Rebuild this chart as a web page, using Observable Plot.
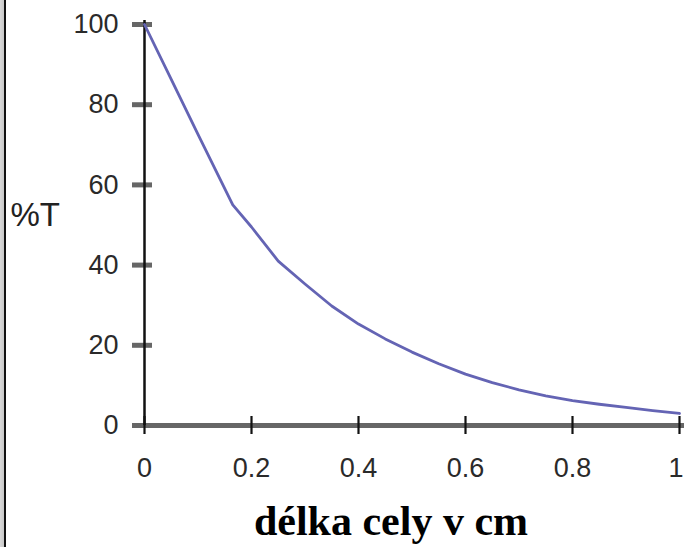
<!DOCTYPE html>
<html>
<head>
<meta charset="utf-8">
<script src="https://cdn.jsdelivr.net/npm/d3@7"></script>
<script src="https://cdn.jsdelivr.net/npm/@observablehq/plot@0.6"></script>
<style>
  html, body { margin: 0; padding: 0; background: #fff; }
  #wrap { position: relative; width: 684px; height: 547px; overflow: hidden; }
  #edge { position: absolute; left: 0; top: 0; width: 7px; height: 547px;
          background: linear-gradient(to right, #d8d8d8 0, #c8c8c8 4px, #111 4px, #111 6px, #fff 6px); }
</style>
</head>
<body>
<div id="wrap"><div id="edge"></div></div>
<script>
// Path length in cm (x) and transmittance %T (y)
const lengths = [0, 0.05, 0.1, 0.165, 0.2, 0.25, 0.3, 0.35, 0.4, 0.45, 0.5, 0.55, 0.6, 0.65, 0.7, 0.75, 0.8, 0.85, 0.9, 0.95, 1];
const transmittance = [100, 86.3, 72.6, 55, 49.5, 41, 35.3, 29.8, 25.3, 21.6, 18.3, 15.4, 12.8, 10.7, 8.9, 7.4, 6.2, 5.3, 4.5, 3.7, 3.0];
const xTicks = [0, 0.2, 0.4, 0.6, 0.8, 1];
const yTicks = [0, 20, 40, 60, 80, 100];
const xTitle = "délka cely v cm";
const yTitle = "%T";

const data = lengths.map((x, i) => ({x, t: transmittance[i]}));
const lastTick = xTicks[xTicks.length - 1];
const innerTicks = xTicks.slice(0, -1);

const chart = Plot.plot({
  width: 684,
  height: 547,
  marginLeft: 144,
  marginRight: 5,
  marginTop: 24,
  marginBottom: 122,
  style: {background: "transparent", fontFamily: "'Liberation Sans', Arial, sans-serif", overflow: "visible"},
  x: {domain: [0, 1], label: null},
  y: {domain: [0, 100], label: null},
  marks: [
    // y ticks (gray, both sides of axis)
    Plot.axisY(yTicks, {tickSize: 20, dx: 8, stroke: "#666", strokeWidth: 5, strokeOpacity: 1, tickFormat: () => "", label: null}),
    Plot.axisY(yTicks, {tickSize: 0, tickPadding: 26, fontSize: 27, fill: "#2a2a2a", label: null}),
    // x axis line (thick gray)
    Plot.ruleY([0], {stroke: "#666", strokeWidth: 5, insetLeft: -12, insetRight: -6}),
    // x ticks (black, crossing line)
    Plot.axisX(xTicks, {tickSize: 18, dy: -9, stroke: "#111", strokeWidth: 2.2, strokeOpacity: 1, tickFormat: () => "", label: null}),
    Plot.axisX(innerTicks, {tickSize: 0, tickPadding: 32, fontSize: 27, fill: "#2a2a2a", tickFormat: d => String(d), label: null}),
    Plot.axisX([lastTick], {tickSize: 0, tickPadding: 32, fontSize: 27, fill: "#2a2a2a", textAnchor: "end", dx: 4, tickFormat: d => String(d), label: null}),
    // y axis line
    Plot.ruleX([0], {stroke: "#111", strokeWidth: 2.5, insetTop: -4}),
    // curve
    Plot.line(data, {x: "x", y: "t", stroke: "#6464b4", strokeWidth: 2.8}),
    // titles
    Plot.text([yTitle], {frameAnchor: "left", textAnchor: "start", dx: -134, dy: -10, fontSize: 33, fill: "#222"}),
    Plot.text([xTitle], {frameAnchor: "bottom", textAnchor: "middle", lineAnchor: "middle", dx: -21, dy: 96,
      fontSize: 42, fontWeight: "bold", fontFamily: "'Liberation Serif', 'Times New Roman', serif", fill: "#000"})
  ]
});
document.getElementById("wrap").appendChild(chart);
chart.style.position = "absolute";
chart.style.left = "0";
chart.style.top = "0";
</script>
</body>
</html>
